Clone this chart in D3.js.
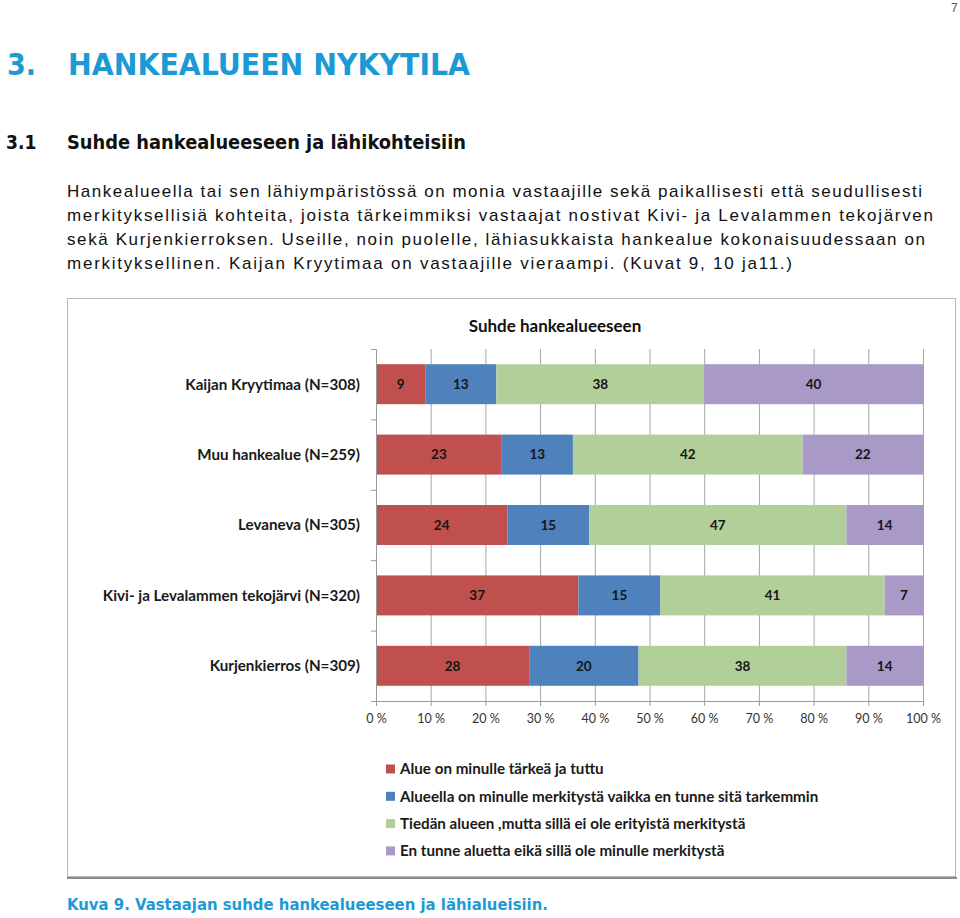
<!DOCTYPE html>
<html>
<head>
<meta charset="utf-8">
<script src="https://cdn.jsdelivr.net/npm/d3@7"></script>
<style>
  html, body { margin: 0; padding: 0; background: #fff; }
  svg { display: block; }
</style>
</head>
<body>
<svg id="page" width="960" height="918"></svg>
<script>
// ---------- data ----------
const categories = [
  "Kaijan Kryytimaa (N=308)",
  "Muu hankealue (N=259)",
  "Levaneva (N=305)",
  "Kivi- ja Levalammen tekojärvi (N=320)",
  "Kurjenkierros (N=309)"
];
const seriesNames = [
  "Alue on minulle tärkeä ja tuttu",
  "Alueella on minulle merkitystä vaikka en tunne sitä tarkemmin",
  "Tiedän alueen ,mutta sillä ei ole erityistä merkitystä",
  "En tunne aluetta eikä sillä ole minulle merkitystä"
];
const tarkeaJaTuttu   = [9, 23, 24, 37, 28];
const merkitystaVaikka = [13, 13, 15, 15, 20];
const tiedanAlueen     = [38, 42, 47, 41, 38];
const enTunneAluetta   = [40, 22, 14, 7, 14];
const tickValues = [0, 10, 20, 30, 40, 50, 60, 70, 80, 90, 100];
const tickLabels = ["0 %", "10 %", "20 %", "30 %", "40 %", "50 %", "60 %", "70 %", "80 %", "90 %", "100 %"];

const chartTitle = "Suhde hankealueeseen";
const pageNumber = "7";
const heading = ["3.", "HANKEALUEEN NYKYTILA"];
const subheading = ["3.1", "Suhde hankealueeseen ja lähikohteisiin"];
const paragraph = [
  "Hankealueella tai sen lähiympäristössä on monia vastaajille sekä paikallisesti että seudullisesti",
  "merkityksellisiä kohteita, joista tärkeimmiksi vastaajat nostivat Kivi- ja Levalammen tekojärven",
  "sekä Kurjenkierroksen. Useille, noin puolelle, lähiasukkaista hankealue kokonaisuudessaan on",
  "merkityksellinen. Kaijan Kryytimaa on vastaajille vieraampi. (Kuvat 9, 10 ja11.)"
];
const caption = "Kuva 9. Vastaajan suhde hankealueeseen ja lähialueisiin.";

// ---------- styling ----------
const colors = ["#C0504D", "#4F81BD", "#B3CF99", "#A899C6"];
const blue = "#1C9AD6";

const svg = d3.select("#page");

// ---------- page text ----------
svg.append("text").text(pageNumber)
  .attr("x", 951).attr("y", 12)
  .attr("font-family", "Liberation Sans Narrow, Liberation Sans, sans-serif")
  .attr("font-size", 12).attr("fill", "#555");

svg.append("text").text(heading[0])
  .attr("x", 7).attr("y", 75)
  .attr("font-family", "DejaVu Sans Condensed, DejaVu Sans, sans-serif")
  .attr("font-weight", "bold").attr("font-size", 30).attr("fill", blue);
svg.append("text").text(heading[1])
  .attr("x", 68).attr("y", 75)
  .attr("font-family", "DejaVu Sans Condensed, DejaVu Sans, sans-serif")
  .attr("font-weight", "bold").attr("font-size", 30).attr("fill", blue)
  .attr("textLength", 402).attr("lengthAdjust", "spacingAndGlyphs");

svg.append("text").text(subheading[0])
  .attr("x", 6).attr("y", 149)
  .attr("font-family", "DejaVu Sans Condensed, DejaVu Sans, sans-serif")
  .attr("font-weight", "bold").attr("font-size", 19).attr("fill", "#111");
svg.append("text").text(subheading[1])
  .attr("x", 67).attr("y", 149)
  .attr("font-family", "DejaVu Sans Condensed, DejaVu Sans, sans-serif")
  .attr("font-weight", "bold").attr("font-size", 19).attr("fill", "#111")
  .attr("textLength", 399).attr("lengthAdjust", "spacingAndGlyphs");

const paraEnds = [922, 933, 925, 792];
svg.append("g").selectAll("text").data(paragraph).join("text")
  .text(d => d)
  .attr("x", 67).attr("y", (d, i) => 197 + i * 24)
  .attr("font-family", "Liberation Sans Narrow, Liberation Sans, Arial, sans-serif")
  .attr("font-size", 17).attr("fill", "#111")
  .attr("textLength", (d, i) => paraEnds[i] - 67).attr("lengthAdjust", "spacing");

// ---------- chart frame ----------
svg.append("rect")
  .attr("x", 67.5).attr("y", 298.5).attr("width", 888).attr("height", 578)
  .attr("fill", "#fff").attr("stroke", "#b8b8b8").attr("stroke-width", 1);
svg.append("line").attr("x1", 67).attr("x2", 957).attr("y1", 878).attr("y2", 878)
  .attr("stroke", "#8c8c8c").attr("stroke-width", 2);

svg.append("text").text(chartTitle)
  .attr("x", 555).attr("y", 332).attr("text-anchor", "middle")
  .attr("font-family", "Lato, sans-serif").attr("font-weight", "bold")
  .attr("font-size", 17).attr("fill", "#111");

// ---------- scales ----------
const plotTop = 349, plotBottom = 701, plotLeft = 376, plotRight = 923;
const x = d3.scaleLinear().domain([0, 100]).range([plotLeft, plotRight]);
const y = d3.scaleBand().domain(categories).range([plotTop, plotBottom])
  .paddingInner(0.432).paddingOuter(0.216);

// gridlines
const grid = svg.append("g").attr("transform", `translate(0,${plotBottom})`)
  .call(d3.axisBottom(x).tickValues(tickValues).tickSize(-(plotBottom - plotTop)).tickFormat(""));
grid.select(".domain").remove();
grid.selectAll("line").attr("stroke", "#a6a6a6").attr("stroke-width", 1);

// stacked bars
const rows = categories.map((c, i) => ({
  cat: c, s0: tarkeaJaTuttu[i], s1: merkitystaVaikka[i], s2: tiedanAlueen[i], s3: enTunneAluetta[i]
}));
const keys = ["s0", "s1", "s2", "s3"];
const stacked = d3.stack().keys(keys)(rows);

const layers = svg.append("g").selectAll("g").data(stacked).join("g")
  .attr("fill", (d, i) => colors[i]);
layers.selectAll("rect").data(d => d).join("rect")
  .attr("x", d => x(d[0]))
  .attr("y", d => y(d.data.cat))
  .attr("width", d => x(d[1]) - x(d[0]))
  .attr("height", y.bandwidth());

const labelG = svg.append("g");
stacked.forEach(layer => {
  labelG.selectAll(null).data(layer).join("text")
    .text(d => d[1] - d[0])
    .attr("x", d => (x(d[0]) + x(d[1])) / 2)
    .attr("y", d => y(d.data.cat) + y.bandwidth() / 2)
    .attr("dy", "0.35em").attr("text-anchor", "middle")
    .attr("font-family", "Lato, sans-serif").attr("font-weight", "bold")
    .attr("font-size", 13.5).attr("fill", "#151515");
});

// x axis
const xAxis = svg.append("g").attr("transform", `translate(0,${plotBottom})`)
  .call(d3.axisBottom(x).tickValues(tickValues).tickSize(5).tickPadding(8)
    .tickFormat((d, i) => tickLabels[i]));
xAxis.select(".domain").attr("stroke", "#9a9a9a").attr("d", `M${plotLeft},0.5H${plotRight}`);
xAxis.selectAll("line").attr("stroke", "#9a9a9a");
xAxis.selectAll("text").attr("font-family", "Lato, sans-serif")
  .attr("font-size", 12.5).attr("fill", "#333");

// y axis (category boundaries)
const yb = d3.scaleLinear().domain([0, categories.length]).range([plotTop, plotBottom]);
const yAxis = svg.append("g").attr("transform", `translate(${plotLeft},0)`)
  .call(d3.axisLeft(yb).ticks(categories.length).tickSize(5).tickFormat(""));
yAxis.select(".domain").attr("stroke", "#9a9a9a");
yAxis.selectAll("line").attr("stroke", "#9a9a9a");

// category labels
svg.append("g").selectAll("text").data(categories).join("text")
  .text(d => d)
  .attr("x", 360).attr("y", d => y(d) + y.bandwidth() / 2)
  .attr("dy", "0.35em").attr("text-anchor", "end")
  .attr("font-family", "Lato, sans-serif").attr("font-size", 15.2)
  .attr("font-weight", "bold").attr("fill", "#1a1a1a");

// legend
const legend = svg.append("g").selectAll("g").data(seriesNames).join("g")
  .attr("transform", (d, i) => `translate(386,${769 + i * 27.3})`);
legend.append("rect").attr("x", 0).attr("y", -4.5).attr("width", 9).attr("height", 9)
  .attr("fill", (d, i) => colors[i]);
legend.append("text").text(d => d)
  .attr("x", 14).attr("dy", "0.35em")
  .attr("font-family", "Lato, sans-serif").attr("font-size", 15.2)
  .attr("font-weight", "bold").attr("fill", "#1a1a1a");

// caption
svg.append("text").text(caption)
  .attr("x", 67).attr("y", 910)
  .attr("font-family", "DejaVu Sans Condensed, DejaVu Sans, sans-serif")
  .attr("font-weight", "bold").attr("font-size", 15.5).attr("fill", blue)
  .attr("textLength", 481).attr("lengthAdjust", "spacingAndGlyphs");
</script>
</body>
</html>
